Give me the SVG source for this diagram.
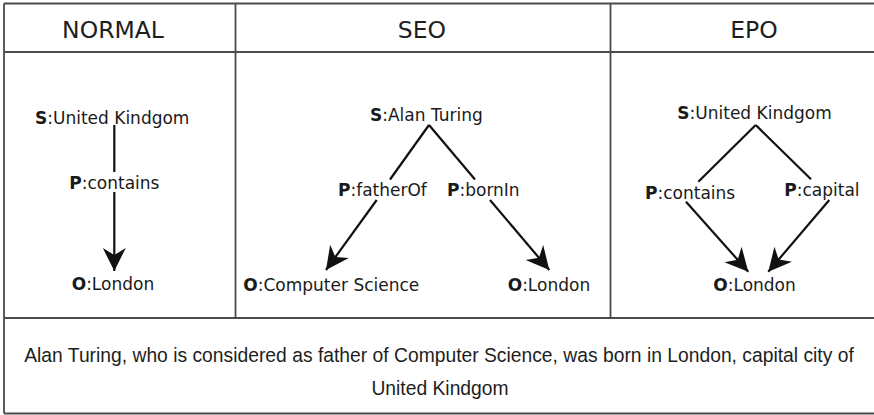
<svg xmlns="http://www.w3.org/2000/svg" width="874" height="415" viewBox="0 0 874 415">
<style>
.frame{stroke:#4a4a4a;stroke-width:1.8;fill:none}
.hdr{font-family:"DejaVu Sans",Verdana,sans-serif;font-size:23.5px;fill:#1e1e1e;text-anchor:middle}
.nd{font-family:"DejaVu Sans",Verdana,sans-serif;font-size:17px;fill:#1a1a1a}
.nd .k{font-weight:bold}
.cap{font-family:"Liberation Sans",Arial,sans-serif;font-size:19.3px;fill:#1e1e1e;text-anchor:middle}
.ln{stroke:#111;stroke-width:2.2;fill:none}
.ar{stroke:#111;stroke-width:2.2;fill:none;marker-end:url(#ah)}
</style>
<defs>
<marker id="ah" markerUnits="userSpaceOnUse" viewBox="-24 -12 25 24" refX="0" refY="0" markerWidth="25" markerHeight="24" orient="auto" overflow="visible">
<path d="M0,0 L-23,-11.5 L-16,0 L-23,11.5 Z" fill="#111"/>
</marker>
</defs>
<rect width="874" height="415" fill="#fff"/>
<g id="frame">
<path class="frame" d="M4,3.5 H880 M4,52 H880 M4,318 H880 M4,413.5 H880 M4,3.5 V413.5 M235.5,3.5 V318 M610.5,3.5 V318"/>
</g>
<g id="headers">
<text class="hdr" x="113" y="38.3">NORMAL</text>
<text class="hdr" x="422" y="38.3">SEO</text>
<text class="hdr" x="754" y="38.3">EPO</text>
</g>
<g id="connectors">
<line class="ln" x1="114.3" y1="125" x2="114.3" y2="172"/>
<line class="ar" x1="114.3" y1="192" x2="114.3" y2="271"/>
<line class="ln" x1="429" y1="125" x2="390" y2="179.5"/>
<line class="ln" x1="429" y1="125" x2="475" y2="179.5"/>
<line class="ar" x1="376.7" y1="200" x2="326" y2="270"/>
<line class="ar" x1="490" y1="200" x2="549.3" y2="270"/>
<line class="ln" x1="755.7" y1="125" x2="698.3" y2="181.7"/>
<line class="ln" x1="755.7" y1="125" x2="811" y2="179.3"/>
<line class="ar" x1="686" y1="201.7" x2="748.3" y2="271.7"/>
<line class="ar" x1="829.3" y1="200" x2="768.3" y2="271.7"/>
</g>
<g id="normal-s"><text class="nd" x="35" y="124"><tspan class="k">S</tspan>:United Kindgom</text></g>
<g id="normal-p"><text class="nd" x="69.3" y="189"><tspan class="k">P</tspan>:contains</text></g>
<g id="normal-o"><text class="nd" x="71.7" y="290"><tspan class="k">O</tspan>:London</text></g>
<g id="seo-s"><text class="nd" x="370" y="121"><tspan class="k">S</tspan>:Alan Turing</text></g>
<g id="seo-p1"><text class="nd" x="338" y="196"><tspan class="k">P</tspan>:fatherOf</text></g>
<g id="seo-p2"><text class="nd" x="447" y="196"><tspan class="k">P</tspan>:bornIn</text></g>
<g id="seo-o1"><text class="nd" x="243.3" y="291"><tspan class="k">O</tspan>:Computer Science</text></g>
<g id="seo-o2"><text class="nd" x="507.7" y="291"><tspan class="k">O</tspan>:London</text></g>
<g id="epo-s"><text class="nd" x="677.3" y="118.5"><tspan class="k">S</tspan>:United Kindgom</text></g>
<g id="epo-p1"><text class="nd" x="645" y="198.5"><tspan class="k">P</tspan>:contains</text></g>
<g id="epo-p2"><text class="nd" x="784.3" y="196"><tspan class="k">P</tspan>:capital</text></g>
<g id="epo-o"><text class="nd" x="713.3" y="291"><tspan class="k">O</tspan>:London</text></g>
<g id="caption">
<text class="cap" x="439" y="361.7">Alan Turing, who is considered as father of Computer Science, was born in London, capital city of</text>
<text class="cap" x="440" y="395">United Kindgom</text>
</g>
</svg>
